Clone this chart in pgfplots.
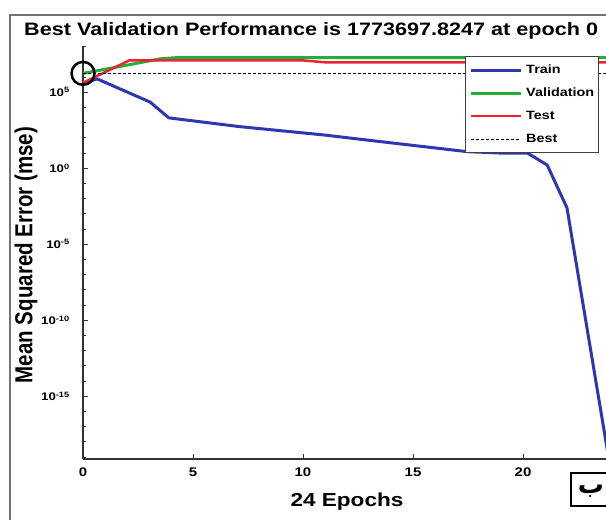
\documentclass[border=0pt]{standalone}
\usepackage{fontspec}
\setmainfont{Liberation Sans}
\newfontfamily\arabicfont[Script=Arabic]{DejaVu Sans}
\TeXXeTstate=1
\usepackage{graphicx}
\usepackage{pgfplots}
\pgfplotsset{compat=1.18}

% MATLAB-style text is set a little wide
\newcommand{\st}[1]{\scalebox{1.2}[1]{#1}}
\newcommand{\ex}[1]{\st{10\textsuperscript{#1}}}

\definecolor{trainblue}{RGB}{45,55,180}
\definecolor{valgreen}{RGB}{35,175,55}
\definecolor{testred}{RGB}{235,35,55}

\begin{document}
\begin{tikzpicture}
\useasboundingbox (0,0) rectangle (606bp,-520bp);
\begin{scope}
\clip (0,0) rectangle (606bp,-520bp);
\fill[white] (0,0) rectangle (606bp,-520bp);
% figure frame
\draw[black!55, line width=2bp] (10bp,-15bp) rectangle (640bp,-560bp);

\begin{axis}[
  at={(83bp,-459bp)}, anchor=south west,
  scale only axis, width=528bp, height=413bp,
  xmin=0, xmax=24,
  ymode=log, ymin=7.6e-20, ymax=1.12e8,
  clip=false,
  axis x line*=bottom, axis y line*=left,
  axis line style={black!80, line width=1.5bp, -},
  xtick={0,5,10,15,20},
  xticklabels={\st{0},\st{5},\st{10},\st{15},\st{20}},
  ytick={1e-15,1e-10,1e-5,1,1e5},
  yticklabels={\ex{-15},\ex{-10},\ex{-5},\ex{0},\ex{5}},
  minor ytick={1e-19,1e-18,1e-17,1e-16,1e-14,1e-13,1e-12,1e-11,1e-9,1e-8,1e-7,1e-6,1e-4,1e-3,1e-2,1e-1,1e1,1e2,1e3,1e4,1e6,1e7,1e8},
  tick align=inside,
  major tick length=5bp, minor tick length=3bp,
  tick style={black!80, line width=1bp},
  xticklabel style={anchor=north, yshift=-9bp, inner sep=0pt,
    font=\fontsize{12.5bp}{14bp}\selectfont\bfseries},
  yticklabel style={anchor=east, xshift=-13bp, inner sep=0pt,
    font=\fontsize{11bp}{13bp}\selectfont\bfseries},
  title={\st{Best Validation Performance is 1773697.8247 at epoch 0}},
  title style={at={(axis description cs:-0.1117,1.0266)}, anchor=base west,
    yshift=-6pt, font=\fontsize{18bp}{22bp}\selectfont\bfseries, inner sep=0pt},
  xlabel={\st{24 Epochs}},
  xlabel style={at={(axis description cs:0.5,-0.1138)}, anchor=base,
    font=\fontsize{18.8bp}{22bp}\selectfont\bfseries, inner sep=0pt},
  ylabel={\scalebox{1}[1.2]{Mean Squared Error (mse)}},
  ylabel style={at={(axis description cs:-0.108,0.494)}, anchor=center,
    font=\fontsize{20.5bp}{24bp}\selectfont\bfseries, inner sep=0pt},
  legend image code/.code={\draw[#1] (0bp,0bp) -- (50bp,0bp);},
  legend style={at={(0.977,0.976)}, anchor=north east,
    draw=black!75, line width=1.2bp, fill=white,
    inner xsep=4bp, inner ysep=8bp, row sep=12bp, column sep=4bp,
    font=\fontsize{12bp}{14bp}\selectfont\bfseries,
    nodes={inner sep=0pt, text height=9bp, text depth=2bp},
    cells={anchor=west}},
  every axis plot/.append style={line join=round},
]
% training error
\addplot[trainblue, line width=3bp] coordinates {
  (0,4.2e5) (0.65,7.6e5) (3.05,2.3e4) (3.9,2.1e3) (7.1,5.6e2)
  (10.9,1.6e2) (13.5,5.8e1) (17.45,1.26e1) (18.95,1.02e1) (20.2,1.02e1)
  (21.1,1.66) (22.0,2.5e-3) (23.9,7.9e-20)
};
% validation error
\addplot[valgreen, line width=3bp] coordinates {
  (0,1773697.8247) (1.1,3.5e6) (3.5,1.6e7) (4.2,1.9e7) (24,1.9e7)
};
% test error
\addplot[testred, line width=2.5bp] coordinates {
  (0,4.2e5) (2.1,1.26e7) (10,1.26e7) (11,9.5e6) (24,9.5e6)
};
% best validation level
\addplot[black, line width=0.9bp, dash pattern=on 3bp off 2bp] coordinates {
  (0,1773697.8247) (24,1773697.8247)
};
% best epoch marker
\addplot[forget plot, only marks, mark=o, mark size=11.5bp,
  mark options={line width=2.5bp, black}] coordinates {(0,1773697.8247)};
\legend{\st{Train},\st{Validation},\st{Test},\st{Best}}
\end{axis}

% panel tag
\draw[black, line width=2bp] (571bp,-473bp) rectangle (640bp,-506bp);
\node[anchor=center, inner sep=0pt] at (591bp,-491bp)
  {\fontsize{26bp}{28bp}\selectfont\arabicfont\bfseries\beginR ب\endR};
\end{scope}
\end{tikzpicture}
\end{document}
